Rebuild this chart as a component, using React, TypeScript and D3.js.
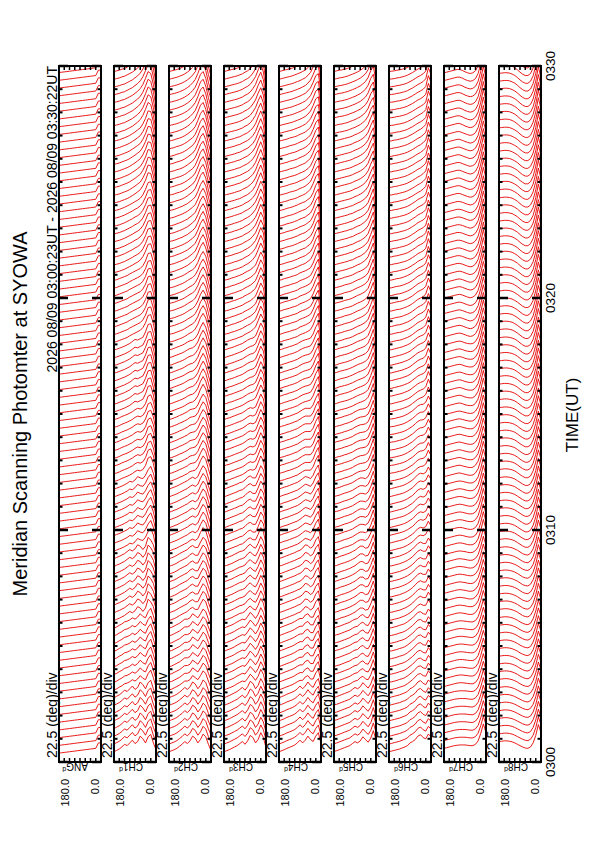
import React, { useEffect, useRef } from 'react';
import * as d3 from 'd3';

// channel names, left to right on the page
const channels = ['ANG', 'CH1', 'CH2', 'CH3', 'CH4', 'CH5', 'CH6', 'CH7', 'CH8'];

// scan angles (deg), 0 = right edge of each panel
const angles = [0, 11.25, 22.5, 33.75, 45, 56.25, 67.5, 78.75, 90, 101.25, 112.5, 123.75, 135, 146.25, 157.5, 168.75, 180];

// time axis (seconds after 03:00 UT)
const tickSeconds = [0, 600, 1200, 1800];
const tickLabels = ['0300', '0310', '0320', '0330'];
const firstScan = 23; // 03:00:23
const scanStep = 20;
const scanCount = 90;
const blockSeconds = 180;

// mirror angle trace
const angProfile = [30, 30, 14, 13, 12, 11, 10, 9, 8, 7, 6, 5, 4, 3, 2, 1, 0];

// one profile per 3-minute block (03:00, 03:03, ... 03:27), values vs angle
const ch1 = [
  [10, 30, 55, 48, 30, 42, 50, 34, 28, 38, 30, 22, 26, 18, 12, 8, 4],
  [12, 40, 62, 52, 34, 38, 46, 36, 30, 34, 28, 24, 22, 16, 12, 7, 4],
  [14, 44, 58, 66, 40, 30, 40, 44, 32, 26, 30, 24, 18, 14, 10, 7, 3],
  [16, 50, 70, 60, 44, 34, 36, 40, 30, 24, 26, 20, 16, 12, 9, 6, 3],
  [18, 56, 76, 72, 50, 38, 34, 36, 32, 26, 22, 18, 15, 12, 8, 5, 3],
  [16, 52, 80, 78, 56, 40, 36, 32, 34, 28, 22, 18, 14, 11, 8, 5, 3],
  [18, 58, 84, 82, 60, 46, 38, 34, 30, 26, 22, 17, 14, 11, 8, 5, 3],
  [20, 62, 88, 86, 66, 50, 40, 34, 30, 25, 21, 17, 13, 10, 7, 5, 3],
  [18, 60, 90, 92, 70, 54, 42, 36, 30, 25, 20, 16, 13, 10, 7, 5, 3],
  [16, 56, 88, 94, 74, 56, 44, 36, 30, 24, 20, 16, 12, 10, 7, 5, 3],
];
const ch2 = [
  [8, 26, 48, 56, 40, 30, 44, 50, 36, 28, 34, 26, 20, 14, 10, 7, 4],
  [10, 30, 52, 60, 46, 34, 40, 46, 34, 30, 30, 24, 18, 14, 10, 6, 4],
  [12, 34, 58, 66, 52, 36, 36, 42, 38, 30, 26, 22, 18, 13, 9, 6, 3],
  [12, 36, 62, 72, 58, 40, 34, 38, 34, 28, 24, 20, 16, 12, 9, 6, 3],
  [14, 40, 68, 78, 64, 46, 36, 34, 32, 26, 22, 18, 15, 11, 8, 5, 3],
  [14, 42, 70, 84, 70, 50, 38, 32, 30, 26, 21, 17, 14, 11, 8, 5, 3],
  [14, 44, 74, 88, 76, 56, 42, 34, 30, 25, 20, 16, 13, 10, 7, 5, 3],
  [14, 44, 76, 92, 80, 60, 44, 36, 30, 24, 20, 16, 13, 10, 7, 5, 3],
  [13, 42, 76, 94, 84, 64, 46, 36, 30, 24, 19, 15, 12, 10, 7, 5, 3],
  [12, 40, 74, 94, 86, 66, 48, 38, 30, 24, 19, 15, 12, 9, 7, 5, 3],
];
const ch3 = [
  [16, 46, 60, 40, 30, 46, 52, 36, 26, 34, 28, 22, 18, 14, 10, 7, 4],
  [18, 50, 64, 44, 32, 42, 50, 38, 28, 30, 26, 22, 17, 13, 10, 7, 4],
  [20, 54, 68, 48, 34, 38, 46, 40, 30, 26, 24, 20, 16, 12, 9, 6, 4],
  [22, 60, 72, 52, 36, 36, 42, 38, 30, 24, 22, 18, 15, 12, 9, 6, 3],
  [22, 64, 78, 58, 40, 36, 38, 34, 28, 23, 20, 17, 14, 11, 8, 6, 3],
  [24, 68, 82, 62, 44, 38, 36, 32, 27, 22, 19, 16, 13, 10, 8, 5, 3],
  [24, 72, 86, 66, 48, 40, 34, 30, 26, 21, 18, 15, 12, 10, 7, 5, 3],
  [22, 74, 90, 70, 52, 42, 34, 29, 25, 20, 17, 14, 12, 9, 7, 5, 3],
  [22, 72, 92, 74, 54, 42, 34, 28, 24, 20, 16, 14, 11, 9, 7, 5, 3],
  [20, 70, 92, 76, 56, 44, 34, 28, 24, 19, 16, 13, 11, 9, 7, 5, 3],
];
const ch4 = [
  [28, 60, 50, 34, 40, 50, 38, 30, 38, 30, 24, 20, 17, 14, 10, 7, 4],
  [30, 64, 54, 36, 36, 46, 42, 32, 32, 28, 23, 19, 16, 13, 10, 7, 4],
  [32, 68, 58, 40, 34, 42, 44, 34, 28, 25, 21, 18, 15, 12, 9, 6, 4],
  [34, 74, 62, 44, 34, 38, 40, 34, 28, 23, 20, 17, 14, 11, 9, 6, 3],
  [36, 80, 66, 46, 36, 36, 36, 32, 27, 22, 19, 16, 13, 11, 8, 6, 3],
  [36, 84, 70, 50, 38, 35, 33, 30, 26, 21, 18, 15, 13, 10, 8, 5, 3],
  [36, 88, 74, 54, 40, 35, 31, 28, 25, 20, 17, 15, 12, 10, 8, 5, 3],
  [34, 90, 78, 56, 42, 36, 30, 27, 24, 20, 17, 14, 12, 10, 7, 5, 3],
  [34, 90, 80, 60, 44, 36, 30, 26, 23, 19, 16, 14, 12, 9, 7, 5, 3],
  [32, 88, 82, 62, 46, 37, 30, 26, 22, 19, 16, 13, 11, 9, 7, 5, 3],
];
const ch5 = [
  [38, 66, 44, 32, 40, 48, 36, 30, 34, 28, 22, 19, 16, 13, 10, 7, 5],
  [40, 70, 48, 34, 36, 44, 40, 32, 30, 26, 21, 18, 15, 12, 9, 7, 4],
  [42, 74, 52, 36, 34, 40, 40, 34, 28, 24, 20, 17, 14, 12, 9, 6, 4],
  [44, 78, 56, 40, 34, 36, 36, 32, 27, 22, 19, 16, 14, 11, 8, 6, 4],
  [46, 82, 60, 42, 36, 34, 33, 30, 26, 21, 18, 15, 13, 10, 8, 6, 3],
  [46, 86, 64, 46, 38, 34, 31, 28, 24, 20, 17, 14, 12, 10, 8, 5, 3],
  [46, 88, 68, 48, 39, 34, 30, 27, 23, 19, 16, 14, 12, 9, 7, 5, 3],
  [44, 90, 70, 50, 40, 34, 29, 26, 22, 18, 16, 13, 11, 9, 7, 5, 3],
  [44, 88, 72, 52, 41, 34, 29, 25, 22, 18, 15, 13, 11, 9, 7, 5, 3],
  [42, 86, 74, 54, 42, 35, 29, 25, 21, 18, 15, 12, 10, 8, 7, 5, 3],
];
const ch6 = [
  [48, 56, 42, 46, 54, 50, 40, 34, 30, 22, 18, 15, 12, 10, 8, 6, 4],
  [50, 60, 44, 46, 52, 50, 42, 34, 28, 22, 17, 14, 12, 9, 7, 5, 4],
  [52, 64, 48, 48, 52, 48, 40, 32, 26, 21, 17, 14, 11, 9, 7, 5, 4],
  [54, 68, 52, 48, 50, 46, 38, 30, 25, 20, 16, 13, 11, 9, 7, 5, 3],
  [56, 72, 54, 48, 47, 43, 36, 29, 24, 19, 15, 12, 10, 8, 6, 5, 3],
  [58, 76, 54, 47, 44, 40, 34, 28, 22, 18, 15, 12, 10, 8, 6, 4, 3],
  [60, 78, 54, 46, 42, 38, 32, 26, 21, 17, 14, 11, 9, 8, 6, 4, 3],
  [60, 80, 52, 44, 40, 36, 30, 25, 20, 16, 13, 11, 9, 7, 6, 4, 3],
  [62, 82, 52, 44, 38, 34, 29, 24, 20, 16, 13, 11, 9, 7, 6, 4, 3],
  [62, 82, 50, 42, 37, 33, 28, 23, 19, 15, 12, 10, 8, 7, 5, 4, 3],
];
const ch7 = [
  [60, 86, 58, 36, 26, 22, 22, 23, 24, 24, 24, 23, 22, 20, 18, 16, 14],
  [62, 88, 60, 37, 26, 22, 22, 23, 24, 25, 25, 24, 22, 20, 18, 16, 14],
  [64, 92, 62, 38, 27, 22, 21, 22, 24, 25, 26, 25, 23, 21, 19, 17, 15],
  [66, 96, 64, 39, 27, 22, 21, 22, 24, 26, 27, 26, 24, 22, 20, 18, 16],
  [68, 98, 66, 40, 28, 22, 21, 22, 24, 26, 28, 27, 25, 23, 21, 19, 17],
  [70, 102, 68, 41, 28, 22, 21, 22, 24, 27, 29, 28, 26, 24, 22, 20, 18],
  [72, 104, 70, 42, 28, 22, 20, 22, 25, 28, 30, 29, 27, 25, 23, 21, 19],
  [72, 106, 70, 42, 28, 22, 20, 22, 25, 28, 30, 30, 28, 26, 24, 22, 20],
  [74, 108, 72, 43, 28, 22, 20, 22, 25, 28, 31, 31, 29, 27, 25, 23, 21],
  [74, 110, 72, 43, 28, 22, 20, 22, 25, 29, 32, 32, 30, 28, 26, 24, 22],
];
const ch8 = [
  [60, 84, 52, 30, 18, 14, 15, 18, 22, 26, 30, 33, 35, 36, 36, 35, 34],
  [62, 86, 54, 31, 18, 14, 15, 18, 22, 27, 31, 34, 36, 37, 37, 36, 35],
  [64, 90, 56, 32, 19, 14, 15, 18, 23, 28, 32, 35, 37, 38, 38, 37, 36],
  [66, 94, 58, 33, 19, 14, 14, 18, 23, 28, 33, 36, 38, 39, 39, 38, 37],
  [68, 96, 60, 34, 19, 14, 14, 18, 23, 29, 34, 37, 39, 40, 40, 39, 38],
  [70, 100, 62, 34, 19, 14, 14, 18, 24, 30, 35, 38, 40, 41, 41, 40, 39],
  [72, 102, 64, 35, 20, 14, 14, 18, 24, 30, 35, 39, 41, 42, 42, 41, 40],
  [72, 104, 64, 35, 20, 14, 14, 18, 24, 31, 36, 40, 42, 43, 43, 42, 41],
  [74, 106, 66, 36, 20, 14, 14, 18, 24, 31, 36, 40, 43, 44, 44, 43, 42],
  [74, 108, 66, 36, 20, 14, 14, 18, 24, 31, 37, 41, 44, 45, 45, 44, 43],
];
const profiles = [[angProfile], ch1, ch2, ch3, ch4, ch5, ch6, ch7, ch8];

const W = 595;
const H = 842;
const FONT = 'Liberation Sans, Arial, Helvetica, sans-serif';

const Chart: React.FC = () => {
  const svgRef = useRef<SVGSVGElement | null>(null);

  useEffect(() => {
    if (!svgRef.current) return;
    const svg = d3.select(svgRef.current);
    svg.selectAll('*').remove();

    const panelW = 42;
    // time runs upward on the page
    const y = d3.scaleLinear().domain([0, 1800]).range([762, 66]);
    const panelLeft = d3.scaleLinear().domain([0, 8]).range([59, 499]);
    const amp = d3.scaleLinear().domain([0, 100]).range([0, 34]);
    const scans = d3.range(scanCount).map((i) => firstScan + i * scanStep);

    const defs = svg.append('defs');

    channels.forEach((name, ci) => {
      const left = panelLeft(ci);
      const x = d3.scaleLinear().domain([180, 0]).range([left, left + panelW]);
      const top = y(1800);
      const bottom = y(0);

      defs
        .append('clipPath')
        .attr('id', `clip-${ci}`)
        .append('rect')
        .attr('x', left)
        .attr('y', top)
        .attr('width', panelW)
        .attr('height', bottom - top);

      const g = svg.append('g');
      const traces = g.append('g').attr('clip-path', `url(#clip-${ci})`);

      scans.forEach((t) => {
        const set = profiles[ci];
        const block = Math.min(set.length - 1, Math.floor(t / blockSeconds));
        const vals = set[block];
        const line = d3
          .line<number>()
          .x((_, k) => x(angles[k]))
          .y((v) => y(t) - amp(v));
        traces
          .append('path')
          .datum(vals)
          .attr('fill', 'none')
          .attr('stroke', '#e80000')
          .attr('stroke-width', 0.9)
          .attr('d', line);
      });

      // frame
      g.append('rect')
        .attr('x', left)
        .attr('y', top)
        .attr('width', panelW)
        .attr('height', bottom - top)
        .attr('fill', 'none')
        .attr('stroke', '#000')
        .attr('stroke-width', 2);

      // minute ticks on both sides
      d3.range(0, 1801, 60).forEach((s) => {
        const major = s % 600 === 0;
        const len = major ? 9 : 3.5;
        const w = major ? 2.5 : 2;
        [
          [left, left + len],
          [left + panelW - len, left + panelW],
        ].forEach(([a, b]) => {
          g.append('line')
            .attr('x1', a)
            .attr('x2', b)
            .attr('y1', y(s))
            .attr('y2', y(s))
            .attr('stroke', '#000')
            .attr('stroke-width', w);
        });
      });

      // angle divisions on top and bottom edges
      d3.range(22.5, 180, 22.5).forEach((a) => {
        [
          [top, top + 4],
          [bottom - 4, bottom],
        ].forEach(([a1, a2]) => {
          g.append('line')
            .attr('x1', x(a))
            .attr('x2', x(a))
            .attr('y1', a1)
            .attr('y2', a2)
            .attr('stroke', '#000')
            .attr('stroke-width', 1.5);
        });
      });

      // scale note
      g.append('text')
        .attr('transform', `translate(${left - 2},758) rotate(-90)`)
        .attr('font-family', FONT)
        .attr('font-size', 14)
        .text('22.5 (deg)/div');

      // angle range labels
      g.append('text')
        .attr('transform', `translate(${left + 10},779) rotate(-90)`)
        .attr('text-anchor', 'end')
        .attr('font-family', FONT)
        .attr('font-size', 11)
        .text('180.0');
      g.append('text')
        .attr('transform', `translate(${left + 40},779) rotate(-90)`)
        .attr('text-anchor', 'end')
        .attr('font-family', FONT)
        .attr('font-size', 11)
        .text('0.0');

      // channel name, upside down
      const lab = g
        .append('text')
        .attr('transform', `translate(${left + 29},763) rotate(180)`)
        .attr('font-family', FONT)
        .attr('font-size', 10)
        .text(name);
      lab.append('tspan').attr('font-size', 7).attr('dy', -4).text('d');
    });

    // time labels
    tickSeconds.forEach((s, i) => {
      svg
        .append('text')
        .attr('transform', `translate(555,${y(s)}) rotate(-90)`)
        .attr('text-anchor', 'middle')
        .attr('font-family', FONT)
        .attr('font-size', 13.5)
        .text(tickLabels[i]);
    });

    svg
      .append('text')
      .attr('transform', `translate(578,415) rotate(-90)`)
      .attr('text-anchor', 'middle')
      .attr('font-family', FONT)
      .attr('font-size', 17)
      .text('TIME(UT)');

    svg
      .append('text')
      .attr('transform', `translate(27,414) rotate(-90)`)
      .attr('text-anchor', 'middle')
      .attr('font-family', FONT)
      .attr('font-size', 20)
      .text('Meridian Scanning Photomter at SYOWA');

    svg
      .append('text')
      .attr('transform', `translate(57,66) rotate(-90)`)
      .attr('text-anchor', 'end')
      .attr('font-family', FONT)
      .attr('font-size', 14)
      .text('2026 08/09 03:00:23UT - 2026 08/09 03:30:22UT');
  }, []);

  return (
    <svg
      ref={svgRef}
      width={W}
      height={H}
      style={{ position: 'absolute', left: 0, top: 0, background: '#fff' }}
    />
  );
};

export default function App() {
  return <Chart />;
}
